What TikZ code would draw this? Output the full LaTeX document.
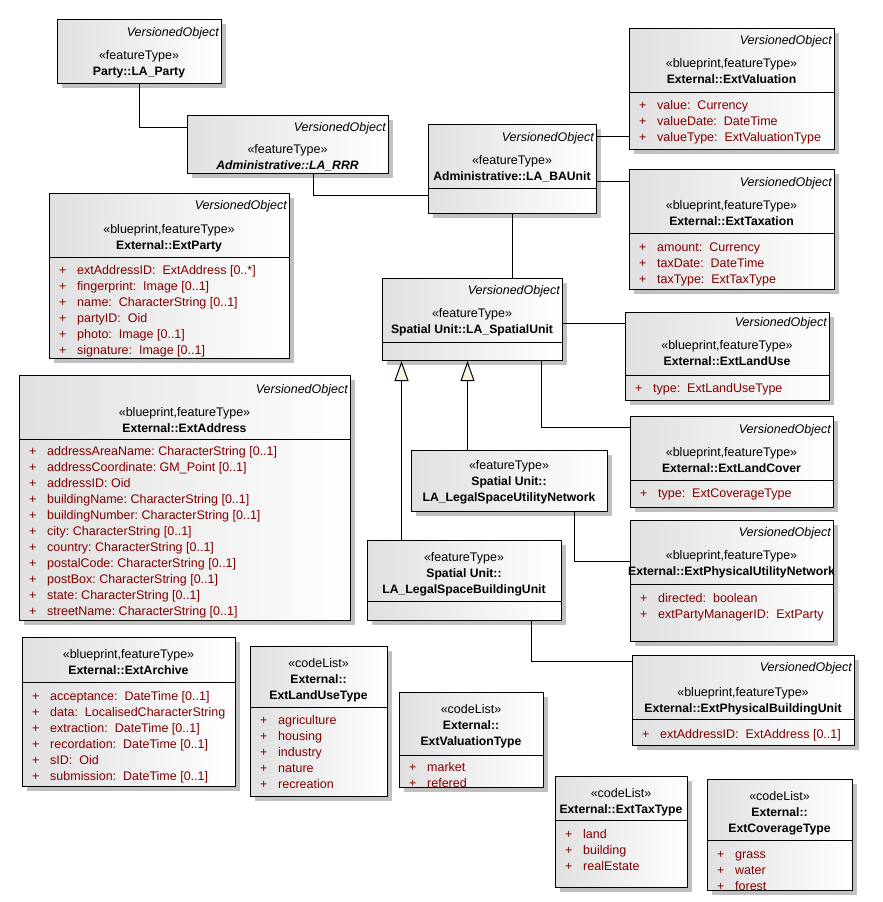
\documentclass[tikz,border=0pt]{standalone}
\usepackage{fontspec}
\setmainfont{Liberation Sans}
\usetikzlibrary{arrows.meta,shadows}
\definecolor{boxgray}{RGB}{224,224,224}
\definecolor{shadowgray}{RGB}{192,192,192}
\definecolor{attrred}{RGB}{128,0,0}
\definecolor{tipfill}{RGB}{250,241,228}
\newcommand{\nm}{\fontsize{12.2}{16}\selectfont\bfseries}
\newcommand{\hd}[1]{\begin{tabular}[t]{@{}c@{}}#1\end{tabular}}
\newcommand{\al}[1]{\begin{tabular}[t]{@{}p{18pt}@{}l@{}}#1\end{tabular}}

\begin{document}
\fontsize{12.5}{16}\selectfont
\begin{tikzpicture}[x=1pt, y=-1pt,
    cls/.style={draw, line width=1pt, anchor=north west, inner sep=0pt, left color=boxgray, right color=white,
        drop shadow={shadow xshift=4pt, shadow yshift=-4pt, fill=shadowgray, opacity=1}},
    divider/.style={line width=1pt},
    vo/.style={anchor=base east, inner sep=0pt, font=\itshape},
    head/.style={anchor=base, inner sep=0pt},
    attrs/.style={anchor=base west, inner sep=0pt, text=attrred},
    wire/.style={line width=1pt},
    gen/.style={line width=1pt, -{Triangle[length=20pt, width=14pt, fill=tipfill]}}]
    \useasboundingbox (0,0) rectangle (883,902);

    \node[cls, minimum width=164pt, minimum height=64pt] (party) at (57,19) {};
    \node[vo] (party-vo) at (219,36) {VersionedObject};
    \node[head] (party-hd) at (139,59) {\hd{«featureType»\\\nm Party::LA\_Party}};

    \node[cls, minimum width=201pt, minimum height=58pt] (rrr) at (187,115) {};
    \node[vo] (rrr-vo) at (386,131) {VersionedObject};
    \node[head] (rrr-hd) at (287.5,153) {\hd{«featureType»\\\nm\itshape Administrative::LA\_RRR}};

    \node[cls, minimum width=240pt, minimum height=165pt] (extparty) at (49,193) {};
    \node[vo] (extparty-vo) at (287,209) {VersionedObject};
    \node[head] (extparty-hd) at (169,233) {\hd{«blueprint,featureType»\\\nm External::ExtParty}};
    \draw[divider] (49,257) -- (289,257);
    \node[attrs] (extparty-at) at (59,274) {\al{+ & extAddressID:\ \ ExtAddress [0..*]\\
        + & fingerprint:\ \ Image [0..1]\\
        + & name:\ \ CharacterString [0..1]\\
        + & partyID:\ \ Oid\\
        + & photo:\ \ Image [0..1]\\
        + & signature:\ \ Image [0..1]}};

    \node[cls, minimum width=205pt, minimum height=121pt] (extvaluation) at (629,28) {};
    \node[vo] (extvaluation-vo) at (832,44) {VersionedObject};
    \node[head] (extvaluation-hd) at (731.5,67) {\hd{«blueprint,featureType»\\\nm External::ExtValuation}};
    \draw[divider] (629,92) -- (834,92);
    \node[attrs] (extvaluation-at) at (639,109) {\al{+ & value:\ \ Currency\\
        + & valueDate:\ \ DateTime\\
        + & valueType:\ \ ExtValuationType}};

    \node[cls, minimum width=168pt, minimum height=89pt] (baunit) at (428,124) {};
    \node[vo] (baunit-vo) at (594,141) {VersionedObject};
    \node[head] (baunit-hd) at (512,164) {\hd{«featureType»\\\nm Administrative::LA\_BAUnit}};
    \draw[divider] (428,188) -- (596,188);

    \node[cls, minimum width=205pt, minimum height=120pt] (exttaxation) at (629,169) {};
    \node[vo] (exttaxation-vo) at (832,186) {VersionedObject};
    \node[head] (exttaxation-hd) at (731.5,209) {\hd{«blueprint,featureType»\\\nm External::ExtTaxation}};
    \draw[divider] (629,233) -- (834,233);
    \node[attrs] (exttaxation-at) at (639,251) {\al{+ & amount:\ \ Currency\\
        + & taxDate:\ \ DateTime\\
        + & taxType:\ \ ExtTaxType}};

    \node[cls, minimum width=180pt, minimum height=82pt] (spatialunit) at (382,278) {};
    \node[vo] (spatialunit-vo) at (560,294) {VersionedObject};
    \node[head] (spatialunit-hd) at (472,317) {\hd{«featureType»\\\nm Spatial Unit::LA\_SpatialUnit}};
    \draw[divider] (382,342) -- (562,342);

    \node[cls, minimum width=204pt, minimum height=88pt] (extlanduse) at (625,312) {};
    \node[vo] (extlanduse-vo) at (827,326) {VersionedObject};
    \node[head] (extlanduse-hd) at (727,349) {\hd{«blueprint,featureType»\\\nm External::ExtLandUse}};
    \draw[divider] (625,375) -- (829,375);
    \node[attrs] (extlanduse-at) at (635,392) {\al{+ & type:\ \ ExtLandUseType}};

    \node[cls, minimum width=203pt, minimum height=91pt] (extlandcover) at (630,416) {};
    \node[vo] (extlandcover-vo) at (831,433) {VersionedObject};
    \node[head] (extlandcover-hd) at (731.5,456) {\hd{«blueprint,featureType»\\\nm External::ExtLandCover}};
    \draw[divider] (630,480) -- (833,480);
    \node[attrs] (extlandcover-at) at (640,497) {\al{+ & type:\ \ ExtCoverageType}};

    \node[cls, minimum width=196pt, minimum height=61pt] (utilnet) at (411,450) {};
    \node[head] (utilnet-hd) at (509,469) {\hd{«featureType»\\\nm Spatial Unit::\\\nm LA\_LegalSpaceUtilityNetwork}};

    \node[cls, minimum width=194pt, minimum height=80pt] (buildunit) at (367,540) {};
    \node[head] (buildunit-hd) at (464,561) {\hd{«featureType»\\\nm Spatial Unit::\\\nm LA\_LegalSpaceBuildingUnit}};
    \draw[divider] (367,601) -- (561,601);

    \node[cls, minimum width=203pt, minimum height=121pt] (extphysutil) at (630,520) {};
    \node[vo] (extphysutil-vo) at (831,536) {VersionedObject};
    \node[head] (extphysutil-hd) at (731.5,559) {\hd{«blueprint,featureType»\\\nm External::ExtPhysicalUtilityNetwork}};
    \draw[divider] (630,584) -- (833,584);
    \node[attrs] (extphysutil-at) at (640,602) {\al{+ & directed:\ \ boolean\\
        + & extPartyManagerID:\ \ ExtParty}};

    \node[cls, minimum width=222pt, minimum height=90pt] (extphysbuild) at (632,655) {};
    \node[vo] (extphysbuild-vo) at (852,671) {VersionedObject};
    \node[head] (extphysbuild-hd) at (743,696) {\hd{«blueprint,featureType»\\\nm External::ExtPhysicalBuildingUnit}};
    \draw[divider] (632,719) -- (854,719);
    \node[attrs] (extphysbuild-at) at (642,738) {\al{+ & extAddressID:\ \ ExtAddress [0..1]}};

    \node[cls, minimum width=331pt, minimum height=245pt] (extaddress) at (19,375) {};
    \node[vo] (extaddress-vo) at (348,393) {VersionedObject};
    \node[head] (extaddress-hd) at (184.5,416) {\hd{«blueprint,featureType»\\\nm External::ExtAddress}};
    \draw[divider] (19,439) -- (350,439);
    \node[attrs] (extaddress-at) at (29,455) {\al{+ & addressAreaName:\ CharacterString [0..1]\\
        + & addressCoordinate:\ GM\_Point [0..1]\\
        + & addressID:\ Oid\\
        + & buildingName:\ CharacterString [0..1]\\
        + & buildingNumber:\ CharacterString [0..1]\\
        + & city:\ CharacterString [0..1]\\
        + & country:\ CharacterString [0..1]\\
        + & postalCode:\ CharacterString [0..1]\\
        + & postBox:\ CharacterString [0..1]\\
        + & state:\ CharacterString [0..1]\\
        + & streetName:\ CharacterString [0..1]}};

    \node[cls, minimum width=213pt, minimum height=149pt] (extarchive) at (22,637) {};
    \node[head] (extarchive-hd) at (128.5,658) {\hd{«blueprint,featureType»\\\nm External::ExtArchive}};
    \draw[divider] (22,682) -- (235,682);
    \node[attrs] (extarchive-at) at (32,700) {\al{+ & acceptance:\ \ DateTime [0..1]\\
        + & data:\ \ LocalisedCharacterString\\
        + & extraction:\ \ DateTime [0..1]\\
        + & recordation:\ \ DateTime [0..1]\\
        + & sID:\ \ Oid\\
        + & submission:\ \ DateTime [0..1]}};

    \node[cls, minimum width=137pt, minimum height=150pt] (landusetype) at (250,646) {};
    \node[head] (landusetype-hd) at (318.5,667) {\hd{«codeList»\\\nm External::\\\nm ExtLandUseType}};
    \draw[divider] (250,707) -- (387,707);
    \node[attrs] (landusetype-at) at (260,724) {\al{+ & agriculture\\
        + & housing\\
        + & industry\\
        + & nature\\
        + & recreation}};

    \node[cls, minimum width=144pt, minimum height=95pt] (valuationtype) at (399,692) {};
    \node[head] (valuationtype-hd) at (471,713) {\hd{«codeList»\\\nm External::\\\nm ExtValuationType}};
    \draw[divider] (399,755) -- (543,755);
    \node[attrs] (valuationtype-at) at (409,771) {\al{+ & market\\
        + & refered}};

    \node[cls, minimum width=132pt, minimum height=111pt] (taxtype) at (555,776) {};
    \node[head] (taxtype-hd) at (621,797) {\hd{«codeList»\\\nm External::ExtTaxType}};
    \draw[divider] (555,820) -- (687,820);
    \node[attrs] (taxtype-at) at (565,838) {\al{+ & land\\
        + & building\\
        + & realEstate}};

    \node[cls, minimum width=145pt, minimum height=111pt] (coveragetype) at (707,779) {};
    \node[head] (coveragetype-hd) at (779.5,800) {\hd{«codeList»\\\nm External::\\\nm ExtCoverageType}};
    \draw[divider] (707,840) -- (852,840);
    \node[attrs] (coveragetype-at) at (717,858) {\al{+ & grass\\
        + & water\\
        + & forest}};

    \draw[wire] (party.south) |- ([yshift=17pt]rrr.west);
    \draw[wire] ([xshift=25.5pt]rrr.south) |- ([yshift=-26.5pt]baunit.west);
    \draw[wire] ([yshift=32.5pt]baunit.east) -- ([yshift=-47.5pt]extvaluation.west);
    \draw[wire] ([yshift=-12.5pt]baunit.east) -- ([yshift=48pt]exttaxation.west);
    \draw[wire] (baunit.south) -- ([xshift=40pt]spatialunit.north);
    \draw[wire] ([yshift=-4pt]spatialunit.east) -- ([yshift=33pt]extlanduse.west);
    \draw[wire] ([xshift=69pt]spatialunit.south) |- ([yshift=34.5pt]extlandcover.west);
    \draw[gen] ([xshift=-63pt]buildunit.north) -- ([xshift=-71pt]spatialunit.south);
    \draw[gen] ([xshift=-42pt]utilnet.north) -- ([xshift=-5pt]spatialunit.south);
    \draw[wire] ([xshift=65pt]utilnet.south) |- ([yshift=19.5pt]extphysutil.west);
    \draw[wire] ([xshift=67pt]buildunit.south) |- ([yshift=39pt]extphysbuild.west);
\end{tikzpicture}
\end{document}
